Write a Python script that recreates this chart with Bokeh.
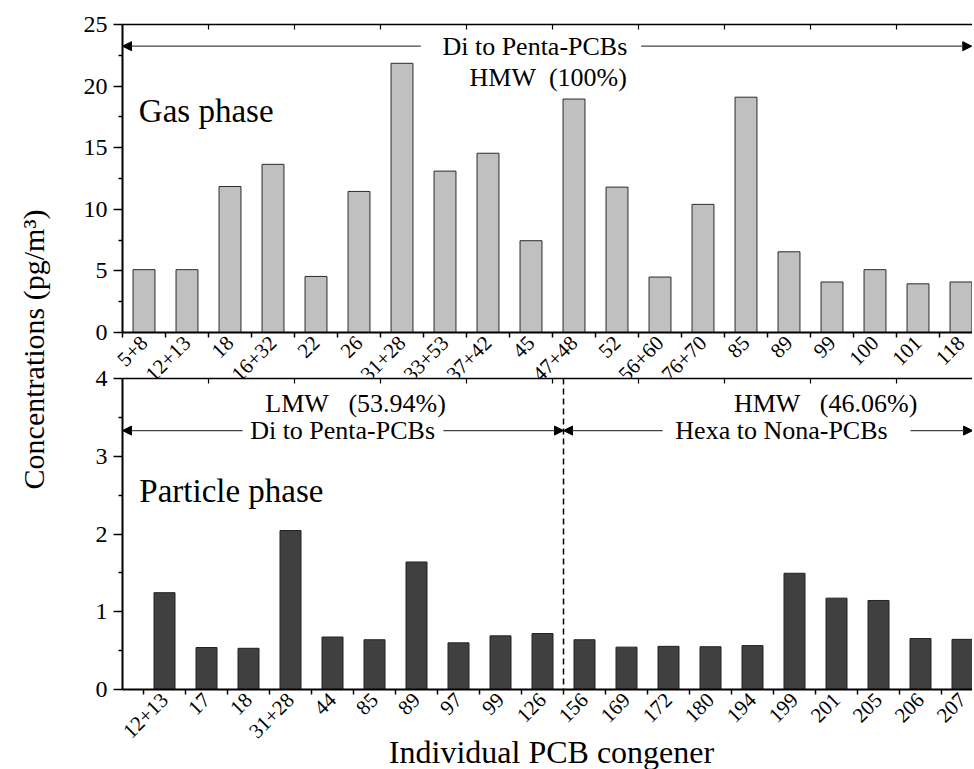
import math
from bokeh.plotting import figure
from bokeh.models import Range1d, FixedTicker, Label, Arrow, NormalHead, Span, LinearAxis
from bokeh.layouts import row, column
from bokeh.embed import file_html
from bokeh.resources import INLINE

# ---------------- data ----------------
gas_congeners = ["5+8", "12+13", "18", "16+32", "22", "26", "31+28", "33+53", "37+42", "45",
                 "47+48", "52", "56+60", "76+70", "85", "89", "99", "100", "101", "118"]
gas_values = [5.1, 5.1, 11.85, 13.65, 4.55, 11.45, 21.85, 13.1, 14.55, 7.45,
              18.95, 11.8, 4.5, 10.4, 19.1, 6.55, 4.1, 5.1, 3.95, 4.1]
particle_congeners = ["12+13", "17", "18", "31+28", "44", "85", "89", "97", "99", "126",
                      "156", "169", "172", "180", "194", "199", "201", "205", "206", "207"]
particle_values = [1.245, 0.54, 0.53, 2.045, 0.675, 0.64, 1.64, 0.60, 0.69, 0.72,
                   0.64, 0.545, 0.555, 0.55, 0.565, 1.495, 1.175, 1.145, 0.655, 0.645]
gas_yticks = [0, 5, 10, 15, 20, 25]
particle_yticks = [0, 1, 2, 3, 4]

FONT = "'Liberation Serif', 'Times New Roman', serif"
FW = 850
PX1 = 43.0   # px per category, top panel
PX2 = 42.0   # px per category, bottom panel
X1_START = -0.5
X2_START = -1.0
NB = "\u00a0"


def style_fig(p):
    p.outline_line_color = None
    p.xgrid.visible = False
    p.ygrid.visible = False


def style_xaxis(ax, labels):
    n = len(labels)
    ax.ticker = FixedTicker(ticks=list(range(n)), minor_ticks=[i - 0.5 for i in range(n + 1)])
    ax.major_label_overrides = {i: lab for i, lab in enumerate(labels)}
    ax.major_tick_line_color = None
    ax.major_tick_in = 0
    ax.major_tick_out = 0
    ax.minor_tick_in = 0
    ax.minor_tick_out = 5
    ax.minor_tick_line_width = 1.5
    ax.minor_tick_line_color = "black"
    ax.axis_line_width = 2
    ax.axis_line_color = "black"
    ax.major_label_orientation = math.pi / 4
    ax.major_label_standoff = 2
    ax.major_label_text_font = FONT
    ax.major_label_text_font_size = "21px"
    ax.major_label_text_color = "black"


def style_yaxis(ax, ticks):
    minors = [(a + b) / 2 for a, b in zip(ticks[:-1], ticks[1:])]
    ax.ticker = FixedTicker(ticks=ticks, minor_ticks=minors)
    ax.major_tick_in = 0
    ax.major_tick_out = 9
    ax.minor_tick_in = 0
    ax.minor_tick_out = 4
    ax.major_tick_line_width = 1.5
    ax.minor_tick_line_width = 1.5
    ax.major_tick_line_color = "black"
    ax.minor_tick_line_color = "black"
    ax.axis_line_width = 2
    ax.axis_line_color = "black"
    ax.major_label_standoff = 6
    ax.major_label_text_font = FONT
    ax.major_label_text_font_size = "24px"
    ax.major_label_text_color = "black"


def top_border(ticks):
    ax = LinearAxis(ticker=FixedTicker(ticks=ticks, minor_ticks=[]))
    ax.major_label_overrides = {t: "" for t in ticks}
    ax.major_tick_in = 5
    ax.major_tick_out = 0
    ax.major_tick_line_width = 1.2
    ax.major_label_text_font_size = "8px"
    ax.major_label_standoff = 0
    ax.axis_line_width = 1.5
    ax.axis_line_color = "black"
    return ax


def txt(x, y, s, size="26px", align="center"):
    return Label(x=x, y=y, text=s, text_font=FONT, text_font_size=size,
                 text_align=align, text_baseline="middle", text_color="black")


def arrow(x0, x1, y):
    return Arrow(end=NormalHead(size=9, fill_color="black", line_color="black", line_width=1),
                 x_start=x0, y_start=y, x_end=x1, y_end=y,
                 line_color="#444444", line_width=1.2)


# ---------------- top panel: gas phase ----------------
p1 = figure(frame_width=FW, frame_height=308,
            x_range=Range1d(X1_START, X1_START + FW / PX1), y_range=Range1d(0, 25),
            toolbar_location=None, output_backend="svg",
            min_border_left=64, min_border_right=0, min_border_top=24, min_border_bottom=70)
style_fig(p1)
style_xaxis(p1.xaxis[0], gas_congeners)
style_yaxis(p1.yaxis[0], gas_yticks)
top1_ticks = [X1_START + 2 * k for k in range(1, 10)]
p1.add_layout(top_border(top1_ticks), "above")

p1.vbar(x=list(range(len(gas_values))), top=gas_values, width=0.51, bottom=0,
        fill_color="#c0c0c0", line_color="#2b2b2b", line_width=1)

p1.add_layout(arrow(6.44, -0.5, 23.24))
p1.add_layout(arrow(11.56, 19.25, 23.24))
p1.add_layout(txt(9.09, 23.24, "Di to Penta-PCBs"))
p1.add_layout(txt(9.40, 20.70, "HMW" + NB * 2 + "(100%)"))
p1.add_layout(txt(-0.12, 18.0, "Gas phase", size="33px", align="left"))

# ---------------- bottom panel: particle phase ----------------
p2 = figure(frame_width=FW, frame_height=311,
            x_range=Range1d(X2_START, X2_START + FW / PX2), y_range=Range1d(0, 4),
            toolbar_location=None, output_backend="svg",
            min_border_left=64, min_border_right=0, min_border_top=12, min_border_bottom=60)
style_fig(p2)
p2.border_fill_color = None
style_xaxis(p2.xaxis[0], particle_congeners)
style_yaxis(p2.yaxis[0], particle_yticks)
top2_ticks = [X2_START + PX1 * (t - X1_START) / PX2 for t in top1_ticks]
p2.add_layout(top_border(top2_ticks), "above")

p2.vbar(x=list(range(len(particle_values))), top=particle_values, width=0.5, bottom=0,
        fill_color="#404040", line_color="#222222", line_width=1)

p2.add_layout(Span(location=9.5, dimension="height", line_color="black",
                   line_dash="6 4", line_width=1.5))
p2.add_layout(txt(4.55, 3.68, "LMW" + NB * 3 + "(53.94%)"))
p2.add_layout(txt(4.24, 3.33, "Di to Penta-PCBs"))
p2.add_layout(arrow(1.86, -1.0, 3.33))
p2.add_layout(arrow(6.64, 9.5, 3.33))
p2.add_layout(txt(15.74, 3.68, "HMW" + NB * 3 + "(46.06%)"))
p2.add_layout(txt(14.69, 3.33, "Hexa to Nona-PCBs"))
p2.add_layout(arrow(11.86, 9.5, 3.33))
p2.add_layout(arrow(17.76, 19.24, 3.33))
p2.add_layout(txt(-0.6, 2.55, "Particle phase", size="33px", align="left"))
p2.margin = (-36, 0, 0, 0)

# ---------------- x-axis title strip ----------------
H3 = 37
p3 = figure(frame_width=FW, frame_height=H3, x_range=Range1d(0, 1), y_range=Range1d(0, 1),
            toolbar_location=None, output_backend="svg", min_border=0)
p3.axis.visible = False
style_fig(p3)
p3.background_fill_color = None
p3.border_fill_color = None
p3.add_layout(Label(x=429, y=H3 / 2 - 1, x_units="screen", y_units="screen",
                    text="Individual PCB congener", text_font=FONT, text_font_size="32px",
                    text_align="center", text_baseline="middle", text_color="black"))
p3.margin = (-17, 0, 0, 0)

# ---------------- y-axis title ----------------
H_TOTAL = (24 + 308 + 70) + (12 + 311 + 60) - 36 + H3 - 17
pl = figure(width=58, height=H_TOTAL, x_range=Range1d(0, 1), y_range=Range1d(0, 1),
            toolbar_location=None, output_backend="svg", min_border=0)
pl.axis.visible = False
style_fig(pl)
pl.add_layout(Label(x=33, y=H_TOTAL - 349, x_units="screen", y_units="screen",
                    angle=math.pi / 2, text="Concentrations (pg/m³)", text_font=FONT,
                    text_font_size="30px", text_align="center", text_baseline="middle",
                    text_color="black"))

layout = row(pl, column(p1, p2, p3))
open("out.html", "w").write(file_html(layout, INLINE))
